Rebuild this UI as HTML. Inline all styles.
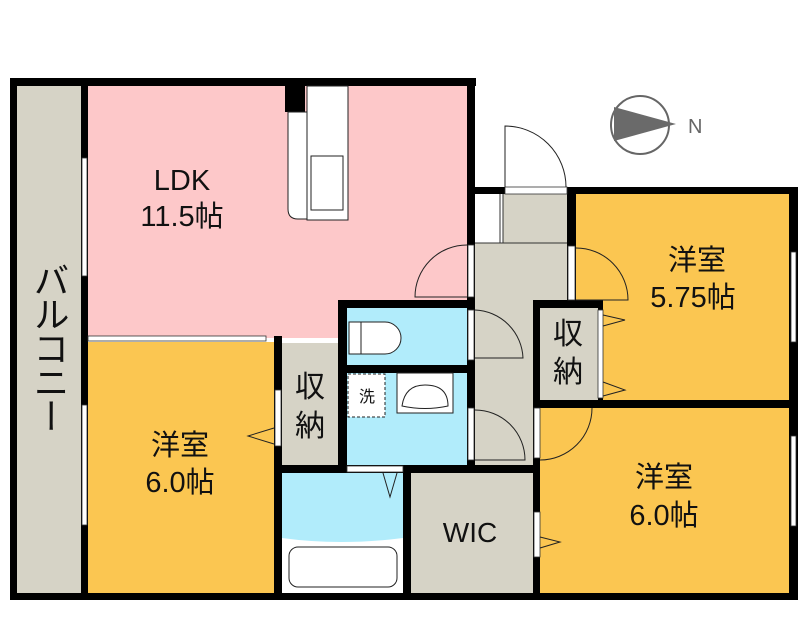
<!DOCTYPE html>
<html><head><meta charset="utf-8"><style>
html,body{margin:0;padding:0;background:#fff}
svg{display:block}
text{font-family:"Liberation Sans","Noto Sans CJK JP",sans-serif;fill:#111}
</style></head><body>
<svg width="800" height="640" viewBox="0 0 800 640" xmlns="http://www.w3.org/2000/svg">
<rect x="17" y="86" width="64" height="507" fill="#d6d3c6"/>
<rect x="88" y="86" width="380" height="252" fill="#fdc8c9"/>
<rect x="88" y="342" width="186" height="251" fill="#fbc651"/>
<rect x="282" y="343" width="56" height="122" fill="#d6d3c6"/>
<rect x="347" y="308" width="121" height="57" fill="#b1ecfb"/>
<rect x="347" y="373" width="121" height="92" fill="#b1ecfb"/>
<rect x="282" y="473" width="121" height="120" fill="#b1ecfb"/>
<rect x="411" y="473" width="122" height="120" fill="#d6d3c6"/>
<rect x="475" y="243" width="92" height="57" fill="#d6d3c6"/>
<rect x="475" y="300" width="58" height="165" fill="#d6d3c6"/>
<rect x="503" y="194" width="64" height="49" fill="#d6d3c6"/>
<rect x="475" y="194" width="25" height="49" fill="#fff"/>
<rect x="576" y="194" width="213" height="206" fill="#fbc651"/>
<rect x="540" y="408" width="249" height="185" fill="#fbc651"/>
<rect x="540" y="308" width="58" height="92" fill="#d6d3c6"/>
<g fill="#000">
<rect x="10" y="78" width="466" height="8"/>
<rect x="10" y="78" width="7" height="522"/>
<rect x="10" y="593" width="788" height="7"/>
<rect x="81" y="78" width="7" height="522"/>
<rect x="467" y="78" width="8" height="222"/>
<rect x="467" y="187" width="331" height="7"/>
<rect x="789" y="187" width="9" height="413"/>
<rect x="567" y="187" width="9" height="121"/>
<rect x="338" y="300" width="137" height="8"/>
<rect x="338" y="300" width="9" height="173"/>
<rect x="338" y="365" width="137" height="8"/>
<rect x="467" y="300" width="8" height="173"/>
<rect x="274" y="336" width="8" height="264"/>
<rect x="274" y="465" width="266" height="8"/>
<rect x="403" y="465" width="8" height="135"/>
<rect x="533" y="300" width="7" height="300"/>
<rect x="533" y="300" width="70" height="8"/>
<rect x="598" y="300" width="5" height="108"/>
<rect x="533" y="400" width="265" height="8"/>
<rect x="285" y="86" width="20" height="26"/>
</g>
<g fill="#fff" stroke="#333" stroke-width="0.8">
<rect x="82" y="158" width="5" height="118"/>
<rect x="82" y="405" width="5" height="120"/>
<rect x="88" y="336" width="178" height="5"/>
<rect x="791" y="252" width="5" height="90"/>
<rect x="791" y="436" width="5" height="90"/>
<rect x="505" y="187" width="62" height="7"/>
<rect x="468" y="245" width="6" height="52"/>
<rect x="468" y="310" width="6" height="50"/>
<rect x="468" y="408" width="6" height="52"/>
<rect x="568" y="246" width="7" height="54"/>
<rect x="534" y="408" width="6" height="50"/>
<rect x="534" y="512" width="6" height="45"/>
<rect x="598" y="310" width="5" height="88"/>
<rect x="275" y="390" width="6" height="56"/>
<rect x="347" y="466" width="56" height="6"/>
</g>
<line x1="500" y1="194" x2="500" y2="243" stroke="#333" stroke-width="1"/>
<line x1="503" y1="194" x2="503" y2="243" stroke="#333" stroke-width="1"/>
<line x1="475" y1="243" x2="567" y2="243" stroke="#333" stroke-width="1"/>
<g fill="none" stroke="#222" stroke-width="1">
<path d="M505 187 V126 A61 61 0 0 1 566 187"/>
<path d="M467 245 A52 52 0 0 0 415 297 H467"/>
<path d="M475 310 A50 50 0 0 1 523 358 H475"/>
<path d="M475 410 A50 50 0 0 1 525 460 H475"/>
<path d="M576 248 A52 52 0 0 1 628 300 H576"/>
<path d="M592 408 A52 52 0 0 1 540 460"/>
<path d="M603 315 L625 320 L603 326"/>
<path d="M603 382 L625 390 L603 396"/>
<path d="M274 428 L248 436 L274 444"/>
<path d="M540 537 L560 542 L540 548"/>
<path d="M383 473 L390 497 L397 473"/>
</g>
<g fill="#fff" stroke="#222" stroke-width="1">
<path d="M288 112 H307 V219 H298 Q288 219 288 209 Z"/>
<rect x="307" y="86" width="41" height="134"/>
<rect x="311" y="156" width="32" height="54"/>
</g>
<path d="M349 322 H385 A16 16 0 0 1 385 354 H349 Z" fill="#fff" stroke="#222"/>
<line x1="361" y1="322" x2="361" y2="354" stroke="#222"/>
<rect x="348" y="374" width="37" height="43" fill="#fff" stroke="#222" stroke-dasharray="3,2"/>
<rect x="397" y="373" width="56" height="40" fill="#fff" stroke="#222"/>
<path d="M402 406 Q405 385 425 385 Q448 385 448 406 Q425 411 402 406 Z" fill="#fff" stroke="#222"/>
<text x="367" y="402" font-size="16" text-anchor="middle">洗</text>
<path d="M282 538 Q340 546 403 538 V593 H282 Z" fill="#fff"/>
<rect x="289" y="547" width="108" height="40" rx="9" fill="#fff" stroke="#222"/>
<circle cx="640" cy="125" r="29" fill="none" stroke="#666" stroke-width="2"/>
<path d="M614 107 L676 124 L614 141 Z" fill="#6a6a6a"/>
<text x="688" y="133" font-size="20" style="fill:#666">N</text>
<text x="182" y="190" font-size="29" text-anchor="middle">LDK</text>
<text x="182" y="226" font-size="29" text-anchor="middle">11.5帖</text>
<text x="180" y="455" font-size="29" text-anchor="middle">洋室</text>
<text x="180" y="492" font-size="29" text-anchor="middle">6.0帖</text>
<text x="697" y="270" font-size="29" text-anchor="middle">洋室</text>
<text x="693" y="307" font-size="29" text-anchor="middle">5.75帖</text>
<text x="664" y="487" font-size="29" text-anchor="middle">洋室</text>
<text x="664" y="525" font-size="29" text-anchor="middle">6.0帖</text>
<text x="470" y="542" font-size="28" text-anchor="middle">WIC</text>
<text x="310" y="397" font-size="30" text-anchor="middle">収</text>
<text x="310" y="436" font-size="30" text-anchor="middle">納</text>
<text x="568" y="344" font-size="30" text-anchor="middle">収</text>
<text x="568" y="382" font-size="30" text-anchor="middle">納</text>
<text x="49" y="262" font-size="36" text-anchor="start" style="writing-mode:vertical-rl;letter-spacing:-2px">バルコニー</text>
</svg>
</body></html>
